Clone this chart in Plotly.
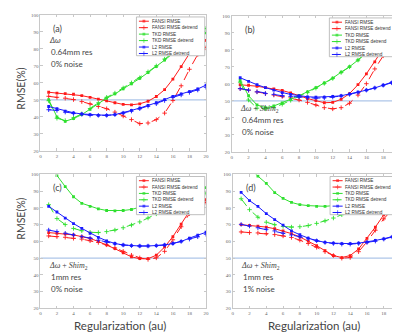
import plotly.graph_objects as go

X = list(range(1, 21))

# Panel (a)
fansi_a  = [54.5,54.0,53.7,53.3,52.5,51.5,50.5,49.4,48.3,47.3,47.1,47.7,49.2,52.0,56.0,62.2,69.6,77.3,82.0,85.0]
fansid_a = [52.1,51.5,51.0,50.2,49.0,47.7,46.1,44.8,42.8,40.5,38.4,36.0,36.4,38.4,42.2,49.6,58.3,68.0,76.7,80.6]
tkd_a    = [50.2,40.0,37.4,39.0,41.3,44.4,47.7,51.0,53.5,56.5,59.5,62.6,66.1,69.6,73.4,77.3,81.0,84.5,87.5,89.5]
tkdd_a   = [49.5,39.2,37.8,39.4,41.8,44.9,48.2,51.5,54.0,57.0,60.0,63.0,66.5,70.0,74.0,78.0,82.0,86.0,89.5,92.0]
l2_a     = [46.1,44.8,43.4,42.4,41.7,41.3,40.9,40.9,41.3,42.4,43.8,45.2,46.7,48.3,50.2,52.1,53.5,54.8,56.4,58.7]
l2d_a    = [44.2,43.8,42.8,42.0,41.5,41.0,40.9,40.9,41.3,42.2,43.4,44.8,46.3,47.7,49.6,51.5,52.9,54.4,55.8,57.4]

# Panel (b)
fansi_b  = [59.5,59.2,58.6,57.8,57.0,56.1,54.7,53.0,51.4,50.1,48.9,49.1,50.9,54.3,59.5,65.9,73.0,80.7,84.0,85.5]
fansid_b = [57.2,56.3,55.3,54.3,53.4,52.6,51.8,50.5,49.1,47.6,46.0,45.3,46.0,48.6,53.4,60.1,68.8,76.5,82.5,85.2]
tkd_b    = [62.0,53.0,47.6,46.0,47.0,48.8,51.0,53.0,55.3,57.8,60.5,63.4,66.9,70.1,74.0,78.4,82.0,85.0,87.0,87.7]
tkdd_b   = [61.0,50.5,45.7,45.3,46.2,48.0,50.3,52.5,55.0,57.5,60.3,63.2,66.7,70.0,74.0,78.5,82.5,86.5,89.5,91.5]
l2_b     = [63.6,61.5,59.5,57.8,56.3,54.9,53.8,53.0,52.4,52.2,52.2,52.6,53.0,54.0,55.1,56.3,57.6,59.2,60.7,62.6]
l2d_b    = [57.2,56.3,55.3,54.3,53.8,53.0,52.6,52.2,51.8,51.6,51.8,52.2,52.8,53.8,54.9,56.3,57.6,59.2,60.6,62.2]

# Panel (c)
fansi_c  = [65.3,64.9,64.5,63.9,62.9,61.8,60.0,58.0,55.7,53.2,50.8,49.7,49.7,51.8,56.7,62.9,70.3,78.0,82.5,85.0]
fansid_c = [63.3,62.9,62.5,61.9,61.4,60.4,59.4,58.0,56.1,54.1,51.8,50.2,49.3,50.2,54.1,61.0,68.8,76.6,81.5,83.4]
tkd_c    = [108.0,99.4,92.8,86.7,82.8,81.0,79.5,78.5,78.3,78.5,79.1,80.5,82.4,84.5,86.5,88.0,89.5,90.5,91.5,92.2]
tkdd_c   = [82.0,73.7,70.1,67.8,66.4,65.5,65.3,65.9,66.8,68.2,69.8,71.7,74.0,76.5,79.0,81.5,84.0,86.0,87.5,88.9]
l2_c     = [81.0,77.6,74.0,70.7,67.8,64.9,62.5,60.4,58.8,57.9,57.5,57.3,57.3,57.5,57.9,58.8,60.0,62.0,63.8,65.5]
l2d_c    = [66.8,65.9,64.9,63.9,62.9,62.0,60.8,59.6,58.6,57.9,57.5,57.3,57.3,57.5,57.9,58.8,60.0,61.4,62.8,64.3]

# Panel (d)
fansi_d  = [70.0,69.6,69.2,68.6,67.6,66.3,64.7,62.7,60.2,57.5,54.5,51.6,50.4,51.6,55.5,61.8,68.6,75.9,80.5,83.7]
fansid_d = [65.7,65.3,65.1,64.7,64.1,63.3,62.4,60.8,58.8,56.5,53.9,51.6,50.0,50.4,53.9,59.8,66.7,73.5,79.0,82.4]
tkd_d    = [110.0,104.0,99.0,94.7,89.2,85.7,83.3,82.0,81.4,81.0,81.0,81.4,82.4,84.0,85.5,87.0,88.5,89.8,91.0,92.0]
tkdd_d   = [85.5,79.0,74.5,71.5,70.0,69.0,68.6,68.8,69.5,70.8,72.3,74.0,76.0,78.0,80.0,82.0,83.5,85.0,86.0,86.5]
l2_d     = [89.3,84.4,80.9,76.6,73.1,69.8,66.3,64.0,62.0,60.5,59.5,59.0,58.7,58.7,59.0,59.6,60.6,61.6,62.8,64.3]
l2d_d    = [70.2,69.2,68.2,67.3,66.3,64.9,63.9,62.8,61.6,60.4,59.4,58.8,58.4,58.4,58.8,59.4,60.2,61.4,62.6,63.9]

SERIES_NAMES = ["FANSI RMSE", "FANSI RMSE detrend", "TKD RMSE", "TKD RMSE detrend", "L2 RMSE", "L2 RMSE detrend"]
PANELS = [
    dict(data=[fansi_a, fansid_a, tkd_a, tkdd_a, l2_a, l2d_a], label="(a)",
         lines=["<i>Δω</i>", "0.64mm res", "0% noise"], text_top=True),
    dict(data=[fansi_b, fansid_b, tkd_b, tkdd_b, l2_b, l2d_b], label="(b)",
         lines=["<i>Δω</i> + <i>Shim</i><sub>2</sub>", "0.64mm res", "0% noise"], text_top=False),
    dict(data=[fansi_c, fansid_c, tkd_c, tkdd_c, l2_c, l2d_c], label="(c)",
         lines=["<i>Δω</i> + <i>Shim</i><sub>2</sub>", "1mm res", "0% noise"], text_top=False),
    dict(data=[fansi_d, fansid_d, tkd_d, tkdd_d, l2_d, l2d_d], label="(d)",
         lines=["<i>Δω</i> + <i>Shim</i><sub>2</sub>", "1mm res", "1% noise"], text_top=False),
]
REF_LINE = 50

RED, GREEN, BLUE = "#ff1a1a", "#2fe02f", "#1a1aff"
COLORS = [RED, RED, GREEN, GREEN, BLUE, BLUE]

W, H = 400, 333
# pixel boxes (left, right, top, bottom)
BOXES = [(31.7, 199, 5, 143), (225, 395, 6, 144), (31.7, 199, 167, 303), (226, 395.5, 167, 303)]

fig = go.Figure()
TICKFONT = dict(family="Liberation Serif", size=5, color="#666")
TXTFONT = "Lato"

for i, (p, box) in enumerate(zip(PANELS, BOXES)):
    n = "" if i == 0 else str(i + 1)
    xa, ya = "x" + n, "y" + n
    l, r, t, b = box
    fig.update_layout(**{
        "xaxis" + n: dict(domain=[l / W, r / W], range=[0, 20], dtick=2, anchor=ya,
                          showgrid=False, zeroline=False, showline=True, linecolor="#c8c8c8",
                          linewidth=1, mirror="ticks", ticks="inside", ticklen=2.5,
                          tickcolor="#c8c8c8", tickfont=TICKFONT),
        "yaxis" + n: dict(domain=[1 - b / H, 1 - t / H], range=[20, 100], dtick=10, anchor=xa,
                          showgrid=False, zeroline=False, showline=True, linecolor="#c8c8c8",
                          linewidth=1, mirror="ticks", ticks="inside", ticklen=2.5,
                          tickcolor="#c8c8c8", tickfont=TICKFONT),
    })
    fig.add_shape(type="line", xref=xa, yref=ya, x0=0, x1=20, y0=REF_LINE, y1=REF_LINE,
                  line=dict(color="#aec6e8", width=1.3), layer="below")
    for k, (vals, name, c) in enumerate(zip(p["data"], SERIES_NAMES, COLORS)):
        det = k % 2 == 1
        fig.add_trace(go.Scatter(
            x=X, y=vals, xaxis=xa, yaxis=ya, mode="lines+markers", showlegend=False, name=name,
            line=dict(color=c, width=1, dash="dash" if det else "solid"),
            marker=dict(symbol="cross-thin" if det else "square", size=3.2 if det else 2.8,
                        color=c, line=dict(color=c, width=0.9 if det else 0)),
        ))
    # legend box drawn in the panel's data space
    lx0, lx1, ly0, ly1 = 11.6, 19.85, 76.0, 98.8
    fig.add_trace(go.Scatter(x=[lx0, lx1, lx1, lx0, lx0], y=[ly0, ly0, ly1, ly1, ly0],
                             xaxis=xa, yaxis=ya, mode="lines", fill="toself", fillcolor="white",
                             line=dict(color="#b0b0b0", width=0.8), showlegend=False, hoverinfo="skip"))
    for k, (name, c) in enumerate(zip(SERIES_NAMES, COLORS)):
        det = k % 2 == 1
        yy = 96.3 - 3.8 * k
        fig.add_trace(go.Scatter(
            x=[11.9, 12.5, 13.1], y=[yy, yy, yy], xaxis=xa, yaxis=ya, mode="lines+markers",
            showlegend=False, hoverinfo="skip",
            line=dict(color=c, width=1, dash="dash" if det else "solid"),
            marker=dict(symbol="cross-thin" if det else "square", size=[0, 3.2 if det else 2.8, 0],
                        color=c, line=dict(color=c, width=0.9 if det else 0)),
        ))
        fig.add_annotation(x=13.2, y=yy, xref=xa, yref=ya, text=name, showarrow=False,
                           xanchor="left", yanchor="middle",
                           font=dict(family="Liberation Sans", size=4.7, color="#333"))
    fig.add_annotation(x=1.3, y=92, xref=xa, yref=ya, text=p["label"], showarrow=False,
                       xanchor="left", yanchor="middle", font=dict(family=TXTFONT, size=9, color="#444"))
    y0 = 85 if p["text_top"] else 45.5
    for j, s in enumerate(p["lines"]):
        fam = "Liberation Serif" if j == 0 and "Shim" in s else TXTFONT
        fig.add_annotation(x=0.8 if j == 0 else 1.0, y=y0 - 6.9 * j, xref=xa, yref=ya, text=s,
                           showarrow=False, xanchor="left", yanchor="middle",
                           font=dict(family=fam, size=8, color="#444"))

for yc in (80, 212):
    fig.add_annotation(x=12 / W, y=1 - yc / H, xref="paper", yref="paper", text="RMSE(%)",
                       textangle=-90, showarrow=False, xanchor="center", yanchor="middle",
                       font=dict(family=TXTFONT, size=10.5, color="#444"))
for xc in (112, 308):
    fig.add_annotation(x=xc / W, y=1 - 320 / H, xref="paper", yref="paper",
                       text="Regularization (au)", showarrow=False, xanchor="center",
                       yanchor="middle", font=dict(family=TXTFONT, size=11.5, color="#444"))

fig.update_layout(width=W, height=H, margin=dict(l=0, r=0, t=0, b=0),
                  paper_bgcolor="white", plot_bgcolor="white", showlegend=False)
fig.write_html("out.html")
